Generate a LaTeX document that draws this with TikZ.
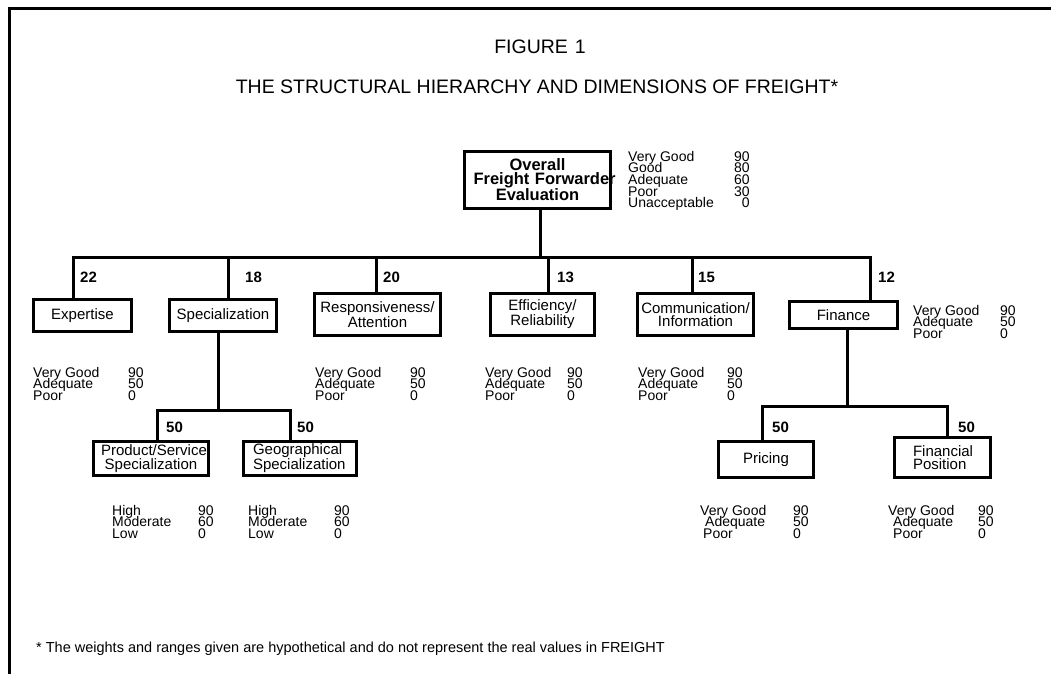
\documentclass[tikz,border=0pt]{standalone}
\usepackage{fontspec}
\setmainfont{Liberation Sans}
% range table: label column of fixed width, value column after it
\newcommand\rangetab[2]{\vtop{\baselineskip=11.5pt\lineskiplimit=-\maxdimen\lineskip=0pt
  \halign{\hbox to #1{##\hfil}&##\hfil\cr#2\crcr}}}
\newcommand\rangetabr[2]{\vtop{\baselineskip=11.7pt\lineskiplimit=-\maxdimen\lineskip=0pt
  \halign{\hbox to #1{##\hfil}&\hfil##\cr#2\crcr}}}
\begin{document}
\begin{tikzpicture}[x=1pt,y=-1pt,
  bx/.style={draw, line width=2.8pt, inner sep=0pt, align=center,
    font=\fontsize{15}{13.5}\selectfont},
  wt/.style={anchor=base west, inner sep=0pt, font=\bfseries\fontsize{15}{15}\selectfont},
  rng/.style={anchor=base west, inner sep=0pt, font=\fontsize{14}{11.5}\selectfont},
  cn/.style={line width=3pt, line join=miter},
  ttl/.style={inner sep=0pt, font=\fontsize{19.5}{22}\selectfont}]
\useasboundingbox (0,0) rectangle (1051,674);

% page frame (left and top rules)
\coordinate (fbl) at (9,674);
\coordinate (ftl) at (9,9);
\coordinate (ftr) at (1051,9);
\draw[line width=3pt] (fbl) -- (ftl) -- (ftr);

% headings
\node[ttl] (fig) at (540,47) {FIGURE\hspace{7pt}1};
\node[ttl] (sub) at (537,87) {THE STRUCTURAL HIERARCHY AND DIMENSIONS OF FREIGHT*};

% top of the hierarchy
\node[bx, minimum width=146.4pt, minimum height=57pt, text width=128pt,
  font=\bfseries\fontsize{16.5}{13.5}\selectfont] (root) at (537.5,180)
  {Overall\\\mbox{Freight Forwarder}\\Evaluation};
\node[anchor=base west, inner sep=0pt, font=\fontsize{14}{11.7}\selectfont] (rootr) at (628,161)
  {\rangetabr{106pt}{Very Good&90\cr Good&80\cr Adequate&60\cr Poor&30\cr Unacceptable&0}};

% first level dimensions
\node[bx, minimum width=98.4pt, minimum height=32.4pt] (exp) at (82.5,315.5) {Expertise};
\node[bx, minimum width=107.4pt, minimum height=32.4pt] (spec) at (223,315.5) {Specialization};
\node[bx, minimum width=126.4pt, minimum height=42.4pt] (resp) at (377.5,314.5) {Responsiveness/\\Attention};
\node[bx, minimum width=104.4pt, minimum height=42.4pt] (eff) at (542.5,314.5) {Efficiency/\\Reliability};
\node[bx, minimum width=116.4pt, minimum height=42.4pt] (comm) at (695.5,314.5) {Communication/\\Information};
\node[bx, minimum width=108.4pt, minimum height=27.4pt] (fin) at (843.5,315) {Finance};

% connectors from the top box to the first level
\coordinate (rs) at (540,257);
\coordinate (d1) at (73,257);
\coordinate (d2) at (228,257);
\coordinate (d3) at (376,257);
\coordinate (d4) at (548,257);
\coordinate (d5) at (692,257);
\coordinate (d6) at (870,257);
\draw[cn] (rs |- root.south) -- (rs);
\draw[cn] (d1 |- exp.north) -- (d1) -- (d6) -- (d6 |- fin.north);
\draw[cn] (d2) -- (d2 |- spec.north);
\draw[cn] (d3) -- (d3 |- resp.north);
\draw[cn] (d4) -- (d4 |- eff.north);
\draw[cn] (d5) -- (d5 |- comm.north);

% weights of the first level
\node[wt] (w1) at (80,282) {22};
\node[wt] (w2) at (245,282) {18};
\node[wt] (w3) at (383,282) {20};
\node[wt] (w4) at (557,282) {13};
\node[wt] (w5) at (698,282) {15};
\node[wt] (w6) at (878,282) {12};

% ranges of the first level
\node[rng] (r1) at (33,377) {\rangetab{95pt}{Very Good&90\cr Adequate&50\cr Poor&0}};
\node[rng] (r3) at (315,377) {\rangetab{95pt}{Very Good&90\cr Adequate&50\cr Poor&0}};
\node[rng] (r4) at (485,377) {\rangetab{82pt}{Very Good&90\cr Adequate&50\cr Poor&0}};
\node[rng] (r5) at (638,377) {\rangetab{89pt}{Very Good&90\cr Adequate&50\cr Poor&0}};
\node[rng] (r6) at (913,315) {\rangetab{87pt}{Very Good&90\cr Adequate&50\cr Poor&0}};

% second level under Specialization
\node[bx, minimum width=115.4pt, minimum height=34.4pt, text width=100pt] (prod) at (151,458.5)
  {\mbox{Product/Service}\\Specialization};
\node[bx, minimum width=113.4pt, minimum height=34.4pt, text width=94pt, align=left] (geo) at (300,458.5)
  {Geographical\\Specialization};
\coordinate (ss) at (218,410);
\coordinate (p1) at (157,410);
\coordinate (p2) at (290,410);
\draw[cn] (ss |- spec.south) -- (ss);
\draw[cn] (p1 |- prod.north) -- (p1) -- (p2) -- (p2 |- geo.north);
\node[wt] (w7) at (166,432) {50};
\node[wt] (w8) at (297,432) {50};
\node[rng] (r7) at (112,515) {\rangetab{86pt}{High&90\cr Moderate&60\cr Low&0}};
\node[rng] (r8) at (248,515) {\rangetab{86pt}{High&90\cr Moderate&60\cr Low&0}};

% second level under Finance
\node[bx, minimum width=95.4pt, minimum height=36.4pt] (pri) at (766,459.5) {Pricing};
\node[bx, minimum width=96.4pt, minimum height=40.4pt, text width=59pt, align=left] (fpos) at (942.5,457.5)
  {Financial\\Position};
\coordinate (fs) at (847,406);
\coordinate (q1) at (762,406);
\coordinate (q2) at (947,406);
\draw[cn] (fs |- fin.south) -- (fs);
\draw[cn] (q1 |- pri.north) -- (q1) -- (q2) -- (q2 |- fpos.north);
\node[wt] (w9) at (772,432) {50};
\node[wt] (w10) at (958,432) {50};
\node[rng] (r9) at (700,515) {\rangetab{93pt}{Very Good&90\cr \hspace{5pt}Adequate&50\cr \hspace{3pt}Poor&0}};
\node[rng] (r10) at (888,515) {\rangetab{90pt}{Very Good&90\cr \hspace{5pt}Adequate&50\cr \hspace{5pt}Poor&0}};

% footnote
\node[anchor=base west, inner sep=0pt, font=\fontsize{14.5}{16}\selectfont] (note) at (36,652)
  {* The weights and ranges given are hypothetical and do not represent the real values in FREIGHT};
\end{tikzpicture}
\end{document}
